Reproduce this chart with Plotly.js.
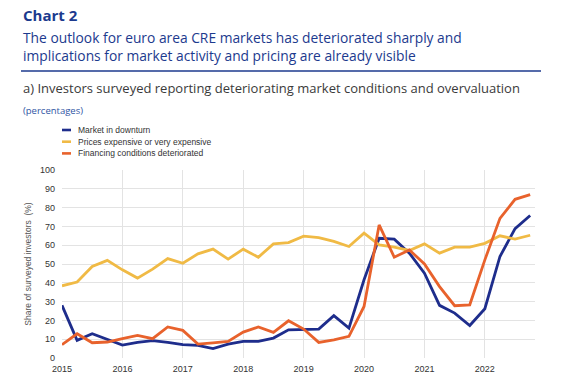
<!DOCTYPE html>
<html><head><meta charset="utf-8">
<script src="https://cdn.plot.ly/plotly-3.0.1.min.js"></script>
<style>html,body{margin:0;padding:0;background:#fff;}#chart{width:564px;height:383px;}</style>
</head><body><div id="chart"></div>
<script>
// Quarterly data, 2015 Q1 – 2022 Q4
const years = [2015,2016,2017,2018,2019,2020,2021,2022];
const quarters = [1,2,3,4];
const seriesNames = ["Market in downturn","Prices expensive or very expensive","Financing conditions deteriorated"];
const marketDownturn = [28,9.4,12.9,10.1, 6.9,8.3,9.2,8.3, 7.1,6.7,5,7.4, 8.8,8.8,10.6,15, 15.2,15.4,22.5,15.9, 41.6,63.7,63.2,55.8, 45.1,28,23.9,17.3, 26.2,54,68.8,75.8];
const pricesExpensive = [38.4,40.4,48.7,51.9, 46.9,42.5,47.3,52.9, 50.4,55.4,57.9,52.6, 57.9,53.6,60.7,61.4, 64.8,64,62,59.3, 66.4,60.2,59,57.2, 60.7,55.8,59,59, 61,65,63.2,65.3];
const financingDeteriorated = [7.1,12.9,8.1,8.5, 10.3,12,10.3,16.5, 14.7,7.4,8.1,8.8, 13.8,16.5,13.6,19.8, 15.4,8.3,9.7,11.5, 27.4,70.8,53.6,57.5, 50,38,27.8,28.3, 52.2,74.3,84.4,86.9];
const yTicks = [0,10,20,30,40,50,60,70,80,90,100];
const xTickYears = years;
const headerChart = "Chart 2";
const headerTitle = ["The outlook for euro area CRE markets has deteriorated sharply and","implications for market activity and pricing are already visible"];
const subTitle = "a) Investors surveyed reporting deteriorating market conditions and overvaluation";
const unitsLabel = "(percentages)";
const yAxisTitle = "Share of surveyed investors  (%)";

const xVals = [];
years.forEach(y => quarters.forEach(q => xVals.push(y + (q-1)/4)));

const colors = ["#1e2d8c","#f0ba45","#e8622c"];
const series = [marketDownturn, pricesExpensive, financingDeteriorated];

// plot area in pixels
const L=62, R=535, T=170, B=358;
const px = x => (x-L)/(R-L);
const py = y => (B-y)/(B-T);

const traces = series.map((s,i)=>({
  x:xVals, y:s, type:'scatter', mode:'lines', name:seriesNames[i],
  line:{color:colors[i], width:2.8}, hoverinfo:'skip'
}));

const annotations = [];
const shapes = [];
const hdrFont = "'Open Sans', 'Noto Sans', sans-serif";
annotations.push({text:"<b>"+headerChart+"</b>", x:px(21), y:py(15), xref:'paper', yref:'paper', xanchor:'left', yanchor:'middle', showarrow:false, font:{family:hdrFont, size:15, color:'#1c3a8e'}});
headerTitle.forEach((t,i)=>annotations.push({text:t, x:px(21), y:py(37+i*18), xref:'paper', yref:'paper', xanchor:'left', yanchor:'middle', showarrow:false, font:{family:hdrFont, size:13.8, color:'#1c3a8e'}}));
shapes.push({type:'line', xref:'paper', yref:'paper', x0:px(21), x1:px(541), y0:py(71), y1:py(71), line:{color:'#1c3a8e', width:1.5}});
annotations.push({text:subTitle, x:px(21), y:py(88), xref:'paper', yref:'paper', xanchor:'left', yanchor:'middle', showarrow:false, font:{family:hdrFont, size:13, color:'#3a3a3a'}});
annotations.push({text:unitsLabel, x:px(21), y:py(110), xref:'paper', yref:'paper', xanchor:'left', yanchor:'middle', showarrow:false, font:{family:hdrFont, size:9.5, color:'#2f55a4'}});
// legend
seriesNames.forEach((n,i)=>{
  const yy = 130 + i*11.7;
  shapes.push({type:'line', xref:'paper', yref:'paper', x0:px(62), x1:px(71), y0:py(yy), y1:py(yy), line:{color:colors[i], width:2.6}});
  annotations.push({text:n, x:px(76), y:py(yy), xref:'paper', yref:'paper', xanchor:'left', yanchor:'middle', showarrow:false, font:{family:"'Liberation Sans', Arial, sans-serif", size:8.5, color:'#333'}});
});

const layout = {
  width:564, height:383,
  margin:{l:L, r:564-R, t:T, b:383-B, pad:0},
  paper_bgcolor:'#fff', plot_bgcolor:'#fff',
  showlegend:false,
  font:{family:"'Liberation Sans', Arial, sans-serif", size:9, color:'#333'},
  xaxis:{range:[2015,2022.83], tickvals:xTickYears, ticktext:xTickYears.map(String), showgrid:true, gridcolor:'#e3e3e3', gridwidth:1, zeroline:false, showline:false, ticks:'', ticklabelstandoff:4, tickfont:{size:9, color:'#333'}, fixedrange:true},
  yaxis:{range:[0,100], tickvals:yTicks, showgrid:true, gridcolor:'#e3e3e3', gridwidth:1, zeroline:false, showline:false, ticks:'', ticklabelstandoff:6, tickfont:{size:9, color:'#333'}, title:{text:yAxisTitle, font:{size:8.5, color:'#555'}, standoff:6}, fixedrange:true},
  annotations:annotations, shapes:shapes
};
Plotly.newPlot('chart', traces, layout, {staticPlot:true, displayModeBar:false});
</script></body></html>
